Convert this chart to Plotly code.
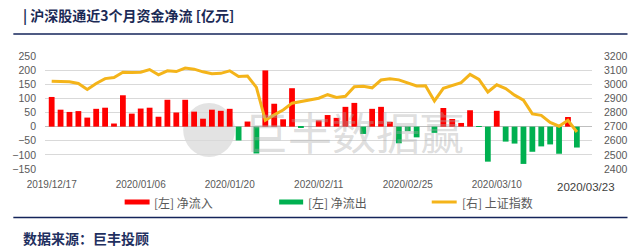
import plotly.graph_objects as go

# ---------------- data ----------------
idx = list(range(60))
net_flow = [105, 60, 52, 55, 32, 63, 67, 11, 111, 46,
            64, 67, 35, 95, 50, 95, 53, 28, 60, 56,
            63, -49, 18, -95, 199, 81, 26, 136, -2, 0,
            22, 41, 31, 70, 84, -26, 63, 70, 17, -59,
            -16, -38, 0, -22, 66, 27, 13, 58, -1, -124,
            56, -53, -60, -132, -89, -70, -63, -96, 34, -74]
sh_index = [3022, 3018, 3017, 3005, 2963, 3005, 3040, 3048, 3085, 3084,
            3085, 3104, 3067, 3095, 3090, 3115, 3107, 3088, 3075, 3077,
            3095, 3055, 3058, 2978, 2745, 2783, 2818, 2866, 2878, 2892,
            2901, 2926, 2907, 2915, 2983, 2986, 2975, 3030, 3039, 3031,
            3012, 2988, 2990, 2882, 2971, 2992, 3012, 3070, 3034, 2945,
            2996, 2969, 2923, 2888, 2790, 2780, 2730, 2703, 2745, 2662]
tick_pos = [0, 10, 20, 30, 40, 50]
tick_labels = ["2019/12/17", "2020/01/06", "2020/01/20", "2020/02/11", "2020/02/25", "2020/03/10"]
last_label = "2020/03/23"
inflow = [v if v > 0 else None for v in net_flow]
outflow = [v if v < 0 else None for v in net_flow]

RED = "#FF0000"
GREEN = "#00B050"
GOLD = "#F4B41A"
GRAY = "#595959"
NAVY = "#14245A"
FONT = "Noto Sans CJK SC, sans-serif"
NUMFONT = "Liberation Sans, Arial, sans-serif"

W, H = 640, 251
L, R, T, B = 33, 37, 56, 82
PW, PH = W - L - R, H - T - B


def px(x):
    return (x - L) / PW


def py(y):
    return 1 - (y - T) / PH


fig = go.Figure()
fig.add_trace(go.Bar(x=idx, y=inflow, marker=dict(color=RED, line=dict(width=0)),
                     name="[左] 净流入", showlegend=False))
fig.add_trace(go.Bar(x=idx, y=outflow, marker=dict(color=GREEN, line=dict(width=0)),
                     name="[左] 净流出", showlegend=False))
fig.add_trace(go.Scatter(x=idx, y=sh_index, yaxis="y2", mode="lines",
                         line=dict(color=GOLD, width=3), name="[右] 上证指数",
                         showlegend=False))

shapes = [
    dict(type="line", xref="paper", yref="paper", x0=px(0), x1=px(W), y0=py(34), y1=py(34),
         line=dict(color=NAVY, width=1.5)),
    dict(type="line", xref="paper", yref="paper", x0=px(0), x1=px(W), y0=py(217.5), y1=py(217.5),
         line=dict(color=NAVY, width=1.5)),
    # legend symbols
    dict(type="rect", xref="paper", yref="paper", x0=px(116), x1=px(142), y0=py(199.5), y1=py(204.5),
         fillcolor=RED, line=dict(width=0)),
    dict(type="rect", xref="paper", yref="paper", x0=px(277), x1=px(302), y0=py(199.5), y1=py(204.5),
         fillcolor=GREEN, line=dict(width=0)),
    dict(type="line", xref="paper", yref="paper", x0=px(436), x1=px(462), y0=py(202), y1=py(202),
         line=dict(color=GOLD, width=3)),
    # watermark logo
    dict(type="circle", xref="paper", yref="paper", x0=px(177), x1=px(231), y0=py(103), y1=py(157),
         fillcolor="rgba(200,200,200,0.5)", line=dict(width=0), layer="below"),
]

annotations = [
    dict(text="<b>| 沪深股通近3个月资金净流 [亿元]</b>", xref="paper", yref="paper",
         x=px(8), y=py(15), xanchor="left", yanchor="middle", showarrow=False,
         font=dict(family=FONT, size=14, color="#1B2A55")),
    dict(text="<b>数据来源：巨丰投顾</b>", xref="paper", yref="paper",
         x=px(8), y=py(238), xanchor="left", yanchor="middle", showarrow=False,
         font=dict(family=FONT, size=14, color="#1F3060")),
    dict(text="[左] 净流入", xref="paper", yref="paper", x=px(145), y=py(202),
         xanchor="left", yanchor="middle", showarrow=False,
         font=dict(family=FONT, size=12, color=GRAY)),
    dict(text="[左] 净流出", xref="paper", yref="paper", x=px(305), y=py(202),
         xanchor="left", yanchor="middle", showarrow=False,
         font=dict(family=FONT, size=12, color=GRAY)),
    dict(text="[右] 上证指数", xref="paper", yref="paper", x=px(465), y=py(202),
         xanchor="left", yanchor="middle", showarrow=False,
         font=dict(family=FONT, size=12, color=GRAY)),
    dict(text=last_label, xref="paper", yref="paper", x=px(597), y=py(187),
         xanchor="center", yanchor="middle", showarrow=False,
         font=dict(family=NUMFONT, size=11.5, color="#404040")),
    dict(text="巨丰数据赢", xref="paper", yref="paper", x=px(238), y=py(131),
         xanchor="left", yanchor="middle", showarrow=False,
         font=dict(family=FONT, size=44, color="rgba(170,170,170,0.4)")),
]

fig.update_layout(
    width=W, height=H,
    margin=dict(l=L, r=R, t=T, b=B, pad=0),
    paper_bgcolor="white", plot_bgcolor="white",
    barmode="overlay", bargap=0.35,
    font=dict(family=FONT, color=GRAY),
    shapes=shapes, annotations=annotations,
    xaxis=dict(range=[-0.75, 60.7], tickmode="array", tickvals=tick_pos, ticktext=tick_labels,
               showgrid=False, zeroline=False, showline=False, ticks="",
               tickfont=dict(family=NUMFONT, size=10, color=GRAY), ticklabelstandoff=8),
    yaxis=dict(range=[-150, 250], tickmode="array", tickvals=list(range(-150, 251, 50)),
               showgrid=True, gridcolor="#D9D9D9", gridwidth=1,
               zeroline=True, zerolinecolor="#BFBFBF", zerolinewidth=1,
               showline=False, ticks="", ticklabelstandoff=8,
               tickfont=dict(family=NUMFONT, size=10.5, color=GRAY)),
    yaxis2=dict(range=[2400, 3200], tickmode="array", tickvals=list(range(2400, 3201, 100)),
                overlaying="y", side="right", showgrid=False, zeroline=False, showline=False,
                ticks="", ticklabelstandoff=11,
                tickfont=dict(family=NUMFONT, size=10.5, color=GRAY)),
)

fig.write_html("out.html")
